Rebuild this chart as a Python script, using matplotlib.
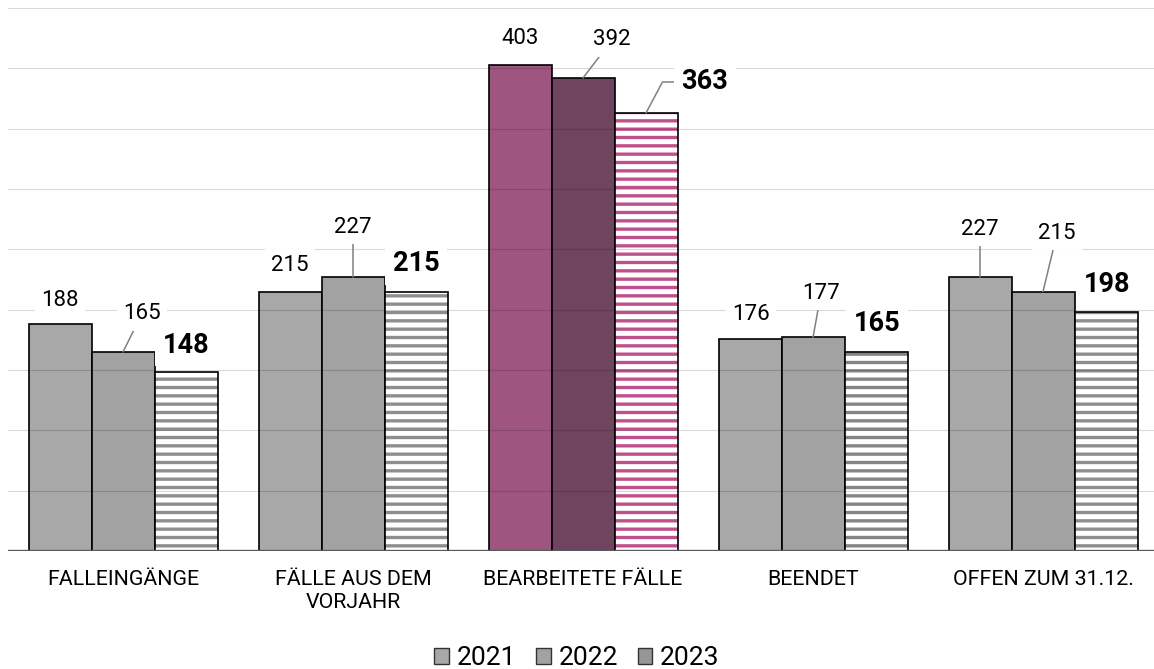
import numpy as np
import matplotlib
matplotlib.use("Agg")
import matplotlib.pyplot as plt
from matplotlib.patches import Patch

plt.rcParams['font.family'] = ['Roboto', 'DejaVu Sans']
plt.rcParams['hatch.linewidth'] = 2.4

# Daten
categories = ["FALLEINGÄNGE", "FÄLLE AUS DEM\nVORJAHR", "BEARBEITETE FÄLLE", "BEENDET", "OFFEN ZUM 31.12."]
years = ["2021", "2022", "2023"]
v2021 = [188, 215, 403, 176, 227]
v2022 = [165, 227, 392, 177, 215]
v2023 = [148, 215, 363, 165, 198]

# Farben: grau, "BEARBEITETE FÄLLE" violett hervorgehoben
col2021 = ['#a8a8a8', '#a8a8a8', '#9e5580', '#a8a8a8', '#a8a8a8']
col2022 = ['#a2a2a2', '#a2a2a2', '#70445f', '#a2a2a2', '#a2a2a2']
stripe2023 = ['#8e8e8e', '#8e8e8e', '#c0508b', '#858585', '#8e8e8e']

# Position der Beschriftungen (Versatz in Pixeln, Leader-Linie ja/nein)
lab2021 = [((0, 24), False), ((0, 26), False), ((0, 26), False), ((1, 24), False), ((0, 48), True)]
lab2022 = [((19, 38), True), ((0, 50), True), ((29, 38), True), ((8, 44), True), ((14, 58), True)]
lab2023 = [((0, 27), False), ((0, 28), False), ((59, 31), True), ((1, 28), False), ((1, 28), False)]

fig = plt.figure(figsize=(11.54, 6.69), dpi=100)
ax = fig.add_axes([8 / 1154, 118 / 669, 1 - 8 / 1154, 543 / 669])

x = np.arange(len(categories))
w = 63 / 230

ax.bar(x - w, v2021, w, color=col2021, edgecolor='black', linewidth=1.2)
ax.bar(x, v2022, w, color=col2022, edgecolor='black', linewidth=1.2)
ax.bar(x + w, v2023, w, color='white', edgecolor=stripe2023, hatch='--', linewidth=0)
ax.bar(x + w, v2023, w, fill=False, edgecolor='black', linewidth=1.2)

ax.set_xlim(-0.5, -0.5 + 1146 / 230)
ax.set_ylim(0, 450)
ax.set_yticks(np.arange(0, 451, 50))
ax.set_axisbelow(False)
ax.grid(axis='y', color='black', alpha=0.15, linewidth=0.8)
ax.axhline(0, color='#595959', linewidth=2.4, zorder=4)
for s in ax.spines.values():
    s.set_visible(False)
ax.tick_params(axis='both', length=0)
ax.set_yticklabels([])
ax.set_xticks(x)
ax.set_xticklabels(categories, fontsize=15.4, linespacing=1.22)
ax.tick_params(axis='x', pad=14)


def label(xpos, vals, labs, bold=False):
    for xi, v, ((dx, dy), lead) in zip(xpos, vals, labs):
        kw = {}
        if lead:
            cs = "angle,angleA=0,angleB=62,rad=0" if (bold and dx > 30) else "arc3"
            kw['arrowprops'] = dict(arrowstyle='-', color='#808080', lw=1.1,
                                    shrinkA=0, shrinkB=0, connectionstyle=cs)
        ax.annotate(str(v), xy=(xi, v), xytext=(dx, dy), textcoords='offset pixels',
                    ha='center', va='center', fontsize=19.5 if bold else 16,
                    fontweight='bold' if bold else 'normal', color='black',
                    bbox=dict(boxstyle='square,pad=0.28', fc='white', ec='none'),
                    zorder=5, **kw)


label(x - w, v2021, lab2021)
label(x, v2022, lab2022)
label(x + w, v2023, lab2023, bold=True)

handles = [Patch(facecolor='#a8a8a8', edgecolor='#333333', lw=1),
           Patch(facecolor='#a2a2a2', edgecolor='#333333', lw=1),
           Patch(facecolor='#969696', edgecolor='#333333', lw=1)]
fig.legend(handles, years, loc='center', bbox_to_anchor=(0.5, 11 / 669), ncol=3,
           frameon=False, fontsize=19, handlelength=0.55, handleheight=0.55,
           handletextpad=0.3, columnspacing=0.75)

fig.savefig("out.png", dpi=100)
